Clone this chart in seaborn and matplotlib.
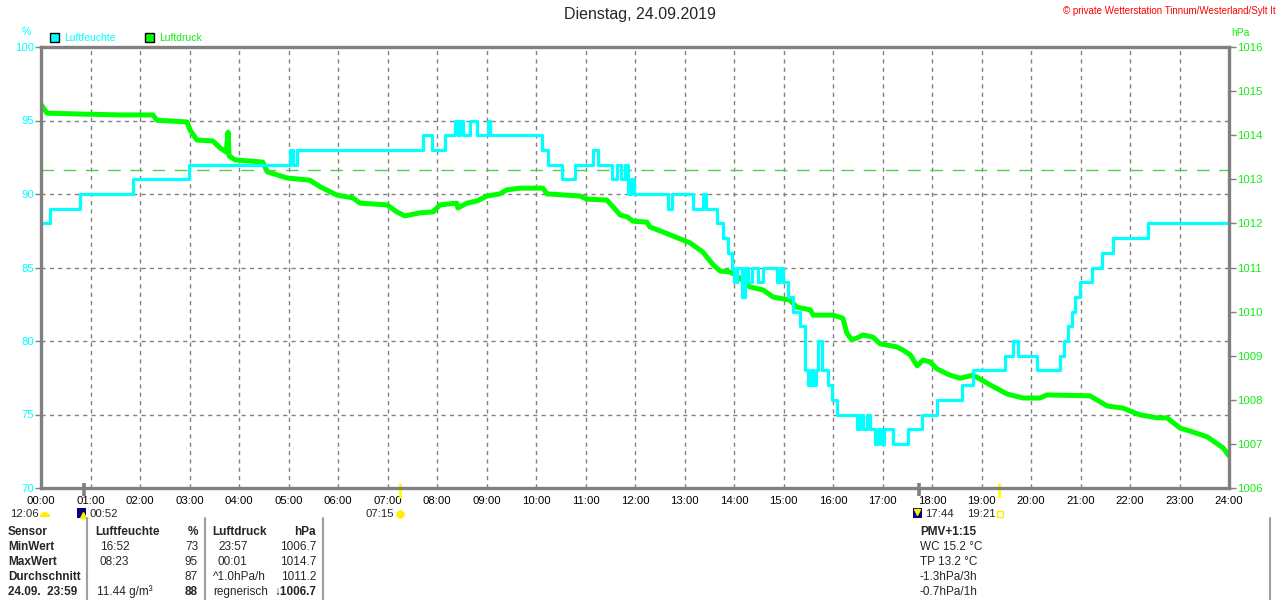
import matplotlib
matplotlib.use("Agg")
import matplotlib.pyplot as plt
import seaborn as sns
from matplotlib.patches import Rectangle, Wedge

# ---- data ----
# Luftfeuchte (%) as step series: time in decimal hours, value from that time on
hum_hours = [0.00, 0.18, 0.79, 1.86, 2.99, 5.03, 5.09, 5.17, 7.72, 7.90, 8.16,
             8.36, 8.42, 8.46, 8.53, 8.67, 8.81, 9.03, 9.07, 10.12, 10.24,
             10.53, 10.79, 11.15, 11.25, 11.54, 11.64, 11.72, 11.80, 11.86,
             11.92, 11.98, 12.67, 12.75, 13.17, 13.37, 13.43, 13.66, 13.78,
             13.88, 13.96, 14.00, 14.06, 14.16, 14.22, 14.28, 14.36, 14.48,
             14.59, 14.87, 14.93, 14.99, 15.09, 15.19, 15.33, 15.43, 15.49,
             15.56, 15.60, 15.66, 15.70, 15.78, 15.90, 15.98, 16.08, 16.48,
             16.55, 16.61, 16.69, 16.75, 16.85, 16.91, 16.97, 17.03, 17.21,
             17.52, 17.80, 18.10, 18.61, 18.83, 19.47, 19.64, 19.74, 20.12,
             20.59, 20.67, 20.75, 20.83, 20.89, 20.99, 21.23, 21.43, 21.66,
             22.36, 24.00]
hum_values = [88, 89, 90, 91, 92, 93, 92, 93, 94, 93, 94,
              95, 94, 95, 94, 95, 94, 95, 94, 93, 92,
              91, 92, 93, 92, 91, 92, 91, 92, 90,
              91, 90, 89, 90, 89, 90, 89, 88, 87,
              86, 85, 84, 85, 83, 85, 84, 85, 84,
              85, 84, 85, 84, 83, 82, 81, 78, 77,
              78, 77, 78, 80, 78, 77, 76, 75, 74,
              75, 74, 75, 74, 73, 74, 73, 74, 73,
              74, 75, 76, 77, 78, 79, 80, 79, 78,
              79, 80, 81, 82, 83, 84, 85, 86, 87,
              88, 88]

# Luftdruck (hPa)
press_hours = [0.00, 0.12, 0.79, 1.60, 2.26, 2.34, 2.95, 3.01, 3.15, 3.47, 3.62,
               3.74, 3.78, 3.80, 3.92, 4.48, 4.57, 4.97, 5.43, 5.64, 5.98,
               6.30, 6.44, 6.99, 7.19, 7.35, 7.66, 7.92, 8.06, 8.40, 8.42,
               8.61, 8.81, 9.01, 9.27, 9.41, 9.68, 10.14, 10.22, 10.89, 11.03,
               11.43, 11.56, 11.70, 11.84, 11.96, 12.24, 12.30, 12.71, 13.11,
               13.37, 13.58, 13.72, 13.92, 14.06, 14.32, 14.59, 14.79, 15.13,
               15.27, 15.54, 15.60, 16.00, 16.20, 16.28, 16.38, 16.48, 16.61,
               16.81, 16.95, 17.29, 17.41, 17.56, 17.70, 17.82, 17.96, 18.10,
               18.36, 18.57, 18.83, 19.17, 19.52, 19.84, 20.18, 20.32, 21.19,
               21.54, 21.86, 22.20, 22.55, 22.75, 23.01, 23.27, 23.56, 23.88,
               24.00]
press_values = [1014.70, 1014.50, 1014.48, 1014.46, 1014.46, 1014.34, 1014.30,
                1014.12, 1013.89, 1013.87, 1013.71, 1013.62, 1014.07, 1013.53,
                1013.44, 1013.39, 1013.17, 1013.03, 1012.98, 1012.83, 1012.64,
                1012.58, 1012.46, 1012.42, 1012.26, 1012.17, 1012.24, 1012.26,
                1012.42, 1012.46, 1012.35, 1012.46, 1012.51, 1012.62, 1012.67,
                1012.76, 1012.80, 1012.80, 1012.67, 1012.62, 1012.55, 1012.53,
                1012.37, 1012.19, 1012.15, 1012.05, 1012.03, 1011.92, 1011.74,
                1011.56, 1011.35, 1011.06, 1010.92, 1010.90, 1010.81, 1010.56,
                1010.49, 1010.33, 1010.26, 1010.10, 1010.04, 1009.92, 1009.92,
                1009.85, 1009.51, 1009.36, 1009.40, 1009.47, 1009.42, 1009.27,
                1009.20, 1009.13, 1009.02, 1008.77, 1008.90, 1008.86, 1008.70,
                1008.56, 1008.49, 1008.56, 1008.34, 1008.13, 1008.04, 1008.04,
                1008.11, 1008.09, 1007.86, 1007.81, 1007.66, 1007.59, 1007.59,
                1007.36, 1007.27, 1007.16, 1006.91, 1006.73]
ref_pressure = 1013.2   # dashed reference line

hour_labels = ["%02d:00" % h for h in range(25)]
hum_ticks = [70, 75, 80, 85, 90, 95, 100]
press_ticks = list(range(1006, 1017))

# sun / moon events on the time axis
moon_events = [0 + 52 / 60, 17 + 44 / 60]     # 00:52, 17:44
sun_events = [7 + 15 / 60, 19 + 21 / 60]      # 07:15, 19:21

# statistics table
table_rows = ["Sensor", "MinWert", "MaxWert", "Durchschnitt", "24.09.  23:59"]
hum_times = ["", "16:52", "08:23", "", "11.44 g/m³"]
hum_stats = ["%", "73", "95", "87", "88"]
press_times = ["", "23:57", "00:01", "^1.0hPa/h", "regnerisch"]
press_stats = ["hPa", "1006.7", "1014.7", "1011.2", "↓1006.7"]
extra_info = ["PMV+1:15", "WC 15.2 °C", "TP 13.2 °C", "-1.3hPa/3h", "-0.7hPa/1h"]

CYAN = "#00ffff"
GREEN = "#00ff00"
GREY = "#808080"

sns.set_style("white")
plt.rcParams['font.family'] = ['Liberation Sans', 'DejaVu Sans']

fig = plt.figure(figsize=(12.8, 6), dpi=100)
pos = [41 / 1280, 1 - 488 / 600, (1229 - 41) / 1280, (488 - 47) / 600]

ax = fig.add_axes(pos)           # humidity scale + grid
axp = ax.twinx()                 # pressure
axh = ax.twinx()                 # humidity line on top
ax.set_zorder(1)
axp.set_zorder(2)
axh.set_zorder(3)
axp.patch.set_visible(False)
axh.patch.set_visible(False)

sns.lineplot(x=press_hours, y=press_values, ax=axp, color=GREEN, lw=3.6,
             estimator=None, sort=False)
axp.axhline(ref_pressure, color="#55cc55", lw=1, dashes=(9, 7))
sns.lineplot(x=hum_hours, y=hum_values, ax=axh, color=CYAN, lw=2.3,
             drawstyle="steps-post", estimator=None, sort=False)

ax.set_xlim(0, 24)
ax.set_ylim(70, 100)
axh.set_ylim(70, 100)
axp.set_ylim(1006, 1016)

ax.set_xticks(range(25))
ax.set_xticklabels(hour_labels)
ax.set_yticks(hum_ticks)
ax.set_yticklabels([str(v) for v in hum_ticks])
ax.tick_params(axis="x", length=0, pad=6, labelsize=8.2, labelcolor="black")
ax.tick_params(axis="y", length=4, width=1, color=GREY, pad=1,
               labelsize=8.2, labelcolor=CYAN)
ax.grid(True, color=GREY, lw=1, ls=(0, (3, 3)))

axp.set_yticks(press_ticks)
axp.set_yticklabels([str(v) for v in press_ticks])
axp.tick_params(axis="y", length=5, width=1, color=GREY, pad=1,
                labelsize=8.2, labelcolor="#11ee11")
axh.yaxis.set_visible(False)

for a in (ax, axp):
    for s in a.spines.values():
        s.set_visible(False)
for s in axh.spines.values():
    s.set_color(GREY)
    s.set_linewidth(2.4)

for a in (ax, axp, axh):
    a.set_xlabel("")
    a.set_ylabel("")

# event ticks below the time axis
xt = ax.get_xaxis_transform()
for t in moon_events:
    axh.plot([t, t], [0.012, -0.018], transform=xt, color=GREY, lw=2.6,
             clip_on=False, solid_capstyle="butt")
for t in sun_events:
    axh.plot([t, t], [0.012, -0.022], transform=xt, color="#ffff00", lw=2,
             clip_on=False, solid_capstyle="butt")

# ---- overlay in pixel coordinates for titles, legend and table ----
ov = fig.add_axes([0, 0, 1, 1])
ov.set_xlim(0, 1280)
ov.set_ylim(600, 0)
ov.axis("off")
ov.set_zorder(5)

ov.text(640, 15, "Dienstag, 24.09.2019", ha="center", va="center", fontsize=11.5)
ov.text(1276, 11, "© private Wetterstation Tinnum/Westerland/Sylt It",
        ha="right", va="center", fontsize=7, color="red")

ov.text(26, 32, "%", ha="center", va="center", fontsize=7.5, color=CYAN)
ov.text(1240, 33, "hPa", ha="center", va="center", fontsize=7.5, color="#11ee11")
ov.add_patch(Rectangle((50, 33), 9, 9, facecolor=CYAN, edgecolor="black", lw=1))
ov.text(64, 38, "Luftfeuchte", ha="left", va="center", fontsize=7.5, color=CYAN)
ov.add_patch(Rectangle((145, 33), 9, 9, facecolor=GREEN, edgecolor="black", lw=1))
ov.text(159, 38, "Luftdruck", ha="left", va="center", fontsize=7.5, color="#11ee11")

# event labels under the axis
ov.text(10, 514, "12:06", ha="left", va="center", fontsize=8.2)
ov.add_patch(Wedge((45, 517), 5, 180, 360, facecolor="#ffee00", edgecolor="none"))
ov.add_patch(Rectangle((77, 508), 9, 10, facecolor="#000080", edgecolor="none"))
ov.plot(83, 515, marker="^", ms=4, color="#ffee00")
ov.text(89, 514, "00:52", ha="left", va="center", fontsize=8.2)
ov.text(394, 514, "07:15", ha="right", va="center", fontsize=8.2)
ov.plot(400, 514, marker=(12, 1, 0), ms=6, color="#ffee00")
ov.add_patch(Rectangle((913, 508), 9, 10, facecolor="#000080", edgecolor="none"))
ov.plot(917, 512, marker="v", ms=4, color="#ffee00")
ov.text(925, 514, "17:44", ha="left", va="center", fontsize=8.2)
ov.text(967, 514, "19:21", ha="left", va="center", fontsize=8.2)
ov.plot(1000, 514, marker="s", ms=5, mfc="none", mec="#ffee00", mew=1)

# table separators
for xs in (87, 205, 323, 1270):
    ov.plot([xs, xs], [518, 600], color="#a0a0a0", lw=1.5)

row_y = [532, 547, 562, 577, 592]
for i, y in enumerate(row_y):
    bold = "bold" if i in (0, 4) else "normal"
    ov.text(8, y, table_rows[i], ha="left", va="center", fontsize=8.5, fontweight="bold")
    if i == 0:
        ov.text(95, y, "Luftfeuchte", ha="left", va="center", fontsize=8.5, fontweight="bold")
        ov.text(212, y, "Luftdruck", ha="left", va="center", fontsize=8.5, fontweight="bold")
    else:
        hx = 97 if i == 4 else 100
        ov.text(hx, y, hum_times[i], ha="left", va="center", fontsize=8.5)
        px = 213 if i >= 3 else 218
        ov.text(px, y, press_times[i], ha="left", va="center", fontsize=8.5)
    ov.text(198, y, hum_stats[i], ha="right", va="center", fontsize=8.5, fontweight=bold)
    ov.text(316, y, press_stats[i], ha="right", va="center", fontsize=8.5, fontweight=bold)
    ov.text(920, y, extra_info[i], ha="left", va="center", fontsize=8.5,
            fontweight="bold" if i == 0 else "normal")

fig.savefig("out.png", dpi=100, facecolor="white")
